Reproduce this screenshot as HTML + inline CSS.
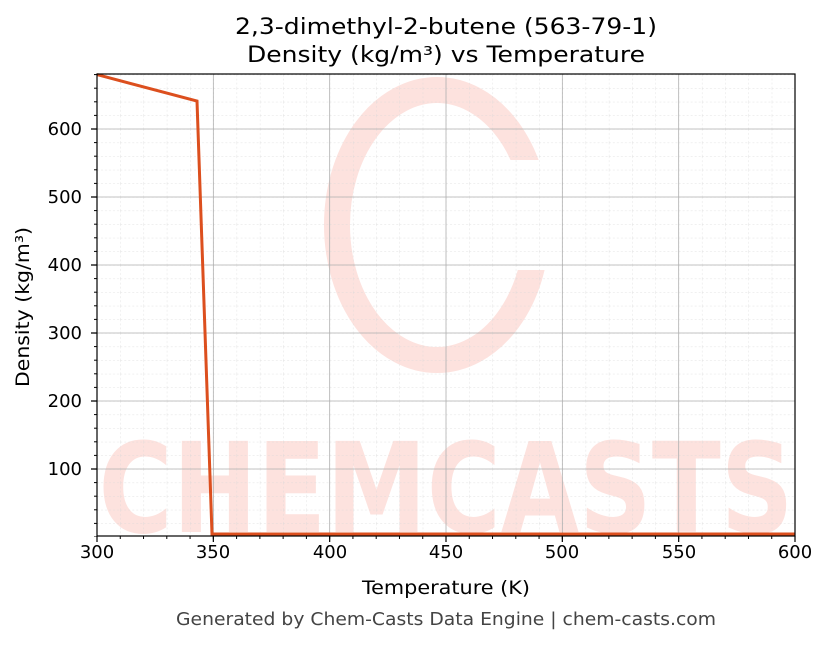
<!DOCTYPE html><html><head><style>body{margin:0;background:#fff}svg{font-family:"DejaVu Sans","Liberation Sans",sans-serif}</style></head><body>
<svg width="830" height="644" xmlns="http://www.w3.org/2000/svg">
<defs>
<pattern id="mg" patternUnits="userSpaceOnUse" x="97" y="537" width="23.2667" height="13.6">
<line x1="0" y1="0" x2="0" y2="13.6" stroke="#d8d8d8" stroke-width="0.7" stroke-dasharray="2,2"/>
<line x1="0" y1="0" x2="23.2667" y2="0" stroke="#d8d8d8" stroke-width="0.7" stroke-dasharray="2,2"/>
</pattern>
<pattern id="xt" patternUnits="userSpaceOnUse" x="96.5" y="0" width="23.2667" height="10">
<rect x="0" y="0" width="1" height="10" fill="#000"/>
</pattern>
<pattern id="yt" patternUnits="userSpaceOnUse" x="0" y="536.5" width="10" height="13.6">
<rect x="0" y="0" width="10" height="1" fill="#000"/>
</pattern>
</defs>
<rect width="830" height="644" fill="#fff"/>
<text x="446" y="34" font-size="22" text-anchor="middle" fill="#000" textLength="422" lengthAdjust="spacingAndGlyphs">2,3-dimethyl-2-butene (563-79-1)</text>
<text x="446" y="62" font-size="22" text-anchor="middle" fill="#000" textLength="398" lengthAdjust="spacingAndGlyphs">Density (kg/m³) vs Temperature</text>
<g fill="#fde2de">
<ellipse cx="437" cy="225" rx="100" ry="135" fill="none" stroke="#fde2de" stroke-width="26"/>
<rect x="500" y="160" width="70" height="110" fill="#fff"/>
<text x="446" y="532" font-size="125" font-weight="bold" text-anchor="middle" textLength="695" lengthAdjust="spacingAndGlyphs">CHEMCASTS</text>
</g>
<rect x="97" y="74" width="698" height="462" fill="url(#mg)"/>
<path d="M213.33 74V536M329.67 74V536M446 74V536M562.33 74V536M678.67 74V536M97 469H795M97 401H795M97 333H795M97 265H795M97 197H795M97 129H795" stroke="#b0b0b0" stroke-width="0.8" fill="none"/>
<rect x="96.5" y="536" width="700" height="3" fill="url(#xt)"/>
<rect x="94" y="74" width="3" height="463" fill="url(#yt)"/>
<path d="M97 536v6M213.33 536v6M329.67 536v6M446 536v6M562.33 536v6M678.67 536v6M795 536v6M91 469h6M91 401h6M91 333h6M91 265h6M91 197h6M91 129h6" stroke="#000" stroke-width="1.2"/>
<polyline points="97,74.6 197,101 212,534 795,534" fill="none" stroke="#dc4f1e" stroke-width="3"/>
<rect x="97" y="74" width="698" height="462" fill="none" stroke="#000" stroke-width="1.2"/>
<g font-size="18" fill="#000" text-anchor="middle">
<text x="97" y="558">300</text><text x="213" y="558">350</text><text x="330" y="558">400</text><text x="446" y="558">450</text><text x="562" y="558">500</text><text x="679" y="558">550</text><text x="795" y="558">600</text>
</g>
<g font-size="18" fill="#000" text-anchor="end">
<text x="82" y="475">100</text><text x="82" y="407">200</text><text x="82" y="339">300</text><text x="82" y="271">400</text><text x="82" y="203">500</text><text x="82" y="135">600</text>
</g>
<text x="446" y="594" font-size="19" text-anchor="middle" textLength="168" lengthAdjust="spacingAndGlyphs">Temperature (K)</text>
<text x="29" y="307" font-size="19" text-anchor="middle" transform="rotate(-90 29 307)" textLength="160" lengthAdjust="spacingAndGlyphs">Density (kg/m³)</text>
<text x="446" y="625" font-size="17.5" text-anchor="middle" fill="#444" textLength="540" lengthAdjust="spacingAndGlyphs">Generated by Chem-Casts Data Engine | chem-casts.com</text>
</svg></body></html>
